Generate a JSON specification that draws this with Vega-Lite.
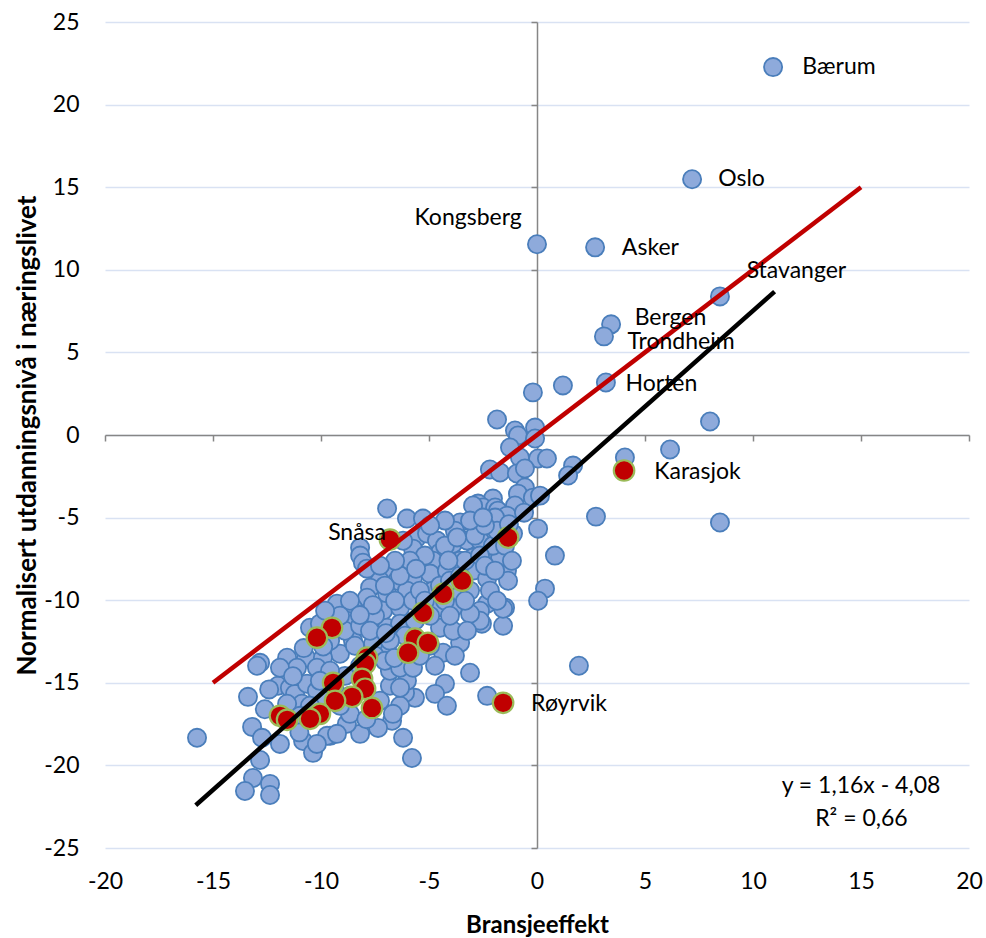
{
  "$schema": "https://vega.github.io/schema/vega-lite/v6.json",
  "width": 864,
  "height": 826,
  "autosize": {"type": "none"},
  "padding": {"left": 105, "top": 22, "right": 17, "bottom": 90},
  "background": "white",
  "config": {"view": {"stroke": null}, "font": "Lato"},
  "datasets": {
    "blue": [
      {"x":10.93,"y":22.27},{"x":7.18,"y":15.48},{"x":0.0,"y":11.55},{"x":2.69,"y":11.36},{"x":8.47,"y":8.39},{"x":3.43,"y":6.70},{"x":3.10,"y":5.97},{"x":3.19,"y":3.18},{"x":-0.19,"y":2.58},{"x":1.20,"y":3.0},{"x":-1.85,"y":0.94},{"x":-0.09,"y":0.45},{"x":-1.02,"y":0.27},{"x":-0.88,"y":-0.03},{"x":-0.09,"y":-0.21},{"x":8.01,"y":0.82},{"x":6.16,"y":-0.88},{"x":4.07,"y":-1.36},{"x":1.67,"y":-1.85},{"x":1.44,"y":-2.45},{"x":-1.25,"y":-0.76},{"x":-0.79,"y":-1.36},{"x":0.05,"y":-1.42},{"x":0.46,"y":-1.42},{"x":-2.18,"y":-2.09},{"x":-1.71,"y":-2.27},{"x":-0.93,"y":-2.33},{"x":-0.56,"y":-2.03},{"x":-0.56,"y":-3.18},{"x":-0.88,"y":-3.55},{"x":-0.19,"y":-3.79},{"x":0.14,"y":-3.67},{"x":-2.04,"y":-3.85},{"x":-2.73,"y":-4.15},{"x":-2.50,"y":-4.39},{"x":-1.94,"y":-4.39},{"x":-1.02,"y":-4.27},{"x":2.73,"y":-4.94},{"x":8.47,"y":-5.30},{"x":0.05,"y":-5.67},{"x":-1.81,"y":-4.58},{"x":-1.39,"y":-4.88},{"x":-1.94,"y":-5.0},{"x":-3.56,"y":-5.30},{"x":-1.11,"y":-5.97},{"x":0.83,"y":-7.30},{"x":-1.39,"y":-8.21},{"x":-1.34,"y":-8.82},{"x":0.37,"y":-9.30},{"x":0.05,"y":-10.03},{"x":-1.48,"y":-10.45},{"x":-1.57,"y":-11.55},{"x":-2.31,"y":-10.21},{"x":-2.55,"y":-11.42},{"x":1.94,"y":-13.97},{"x":-3.10,"y":-14.39},{"x":-4.26,"y":-15.06},{"x":-4.72,"y":-15.67},{"x":-4.17,"y":-16.39},{"x":-2.31,"y":-15.79},{"x":-5.65,"y":-15.91},{"x":-6.11,"y":-15.61},{"x":-6.34,"y":-16.39},{"x":-6.71,"y":-17.30},{"x":-7.36,"y":-17.73},{"x":-8.19,"y":-18.09},{"x":-6.20,"y":-18.33},{"x":-5.79,"y":-19.55},{"x":-6.81,"y":-15.18},{"x":-8.80,"y":-17.48},{"x":-6.02,"y":-14.88},{"x":-4.35,"y":-13.18},{"x":-3.56,"y":-12.58},
      {"x":-12.82,"y":-13.79},{"x":-12.96,"y":-13.97},{"x":-13.38,"y":-15.85},{"x":-15.74,"y":-18.33},{"x":-13.19,"y":-17.67},{"x":-12.73,"y":-18.33},{"x":-12.82,"y":-19.67},{"x":-13.15,"y":-20.76},{"x":-13.52,"y":-21.55},{"x":-12.36,"y":-21.12},{"x":-12.36,"y":-21.79},{"x":-11.90,"y":-18.70},{"x":-11.57,"y":-13.48},{"x":-10.69,"y":-13.48},{"x":-11.99,"y":-15.18},{"x":-11.44,"y":-15.30},{"x":-10.83,"y":-18.52},{"x":-10.37,"y":-19.24},{"x":-9.58,"y":-18.21},{"x":-11.20,"y":-15.67},{"x":-10.88,"y":-16.27},{"x":-11.57,"y":-16.27},
      {"x":-6.94,"y":-4.45},{"x":-6.02,"y":-5.06},{"x":-5.28,"y":-5.06},{"x":-2.96,"y":-4.27},{"x":-8.19,"y":-6.82},{"x":-8.19,"y":-7.30},{"x":-8.06,"y":-7.73},{"x":-7.87,"y":-8.09},{"x":-5.56,"y":-6.21},{"x":-5.09,"y":-5.97},{"x":-4.63,"y":-6.39},{"x":-5.74,"y":-6.88},{"x":-4.49,"y":-7.12},{"x":-3.89,"y":-6.58},{"x":-3.24,"y":-6.39},{"x":-2.64,"y":-6.39},{"x":-2.18,"y":-7.18},{"x":-1.71,"y":-7.42},{"x":-2.04,"y":-6.70},{"x":-2.96,"y":-7.42},{"x":-3.56,"y":-7.61},{"x":-4.81,"y":-7.61},{"x":-5.42,"y":-7.79},{"x":-6.02,"y":-7.79},{"x":-6.67,"y":-8.21},{"x":-7.27,"y":-8.82},{"x":-7.73,"y":-9.24},{"x":-6.48,"y":-8.82},{"x":-5.74,"y":-8.64},{"x":-4.95,"y":-8.39},{"x":-4.17,"y":-8.21},{"x":-2.96,"y":-8.21},{"x":-2.31,"y":-8.70},{"x":-1.57,"y":-10.52},{"x":-2.64,"y":-10.64},{"x":-2.64,"y":-11.24},{"x":-3.10,"y":-10.82},{"x":-3.89,"y":-10.45},{"x":-4.63,"y":-10.45},{"x":-6.02,"y":-9.42},{"x":-6.94,"y":-9.61},{"x":-7.87,"y":-9.85},{"x":-8.52,"y":-10.45},{"x":-9.26,"y":-10.21},{"x":-7.13,"y":-10.64},{"x":-6.34,"y":-10.45},{"x":-5.74,"y":-10.03},{"x":-4.81,"y":-9.42},{"x":-3.70,"y":-9.42},{"x":-10.51,"y":-11.67},{"x":-10.05,"y":-11.42},{"x":-8.80,"y":-11.24},{"x":-7.87,"y":-11.24},{"x":-6.94,"y":-11.67},{"x":-6.34,"y":-11.42},{"x":-4.49,"y":-11.67},{"x":-3.89,"y":-11.85},{"x":-3.24,"y":-11.85},{"x":-6.34,"y":-15.30},{"x":-6.67,"y":-16.88},{"x":-6.81,"y":-14.27},{"x":-6.34,"y":-14.09},{"x":-5.74,"y":-14.09},{"x":-6.94,"y":-13.06},{"x":-7.59,"y":-12.64},{"x":-8.52,"y":-12.45},{"x":-9.12,"y":-13.24},{"x":-9.91,"y":-13.48},{"x":-11.11,"y":-14.09},{"x":-10.19,"y":-14.09},{"x":-10.65,"y":-15.06},{"x":-10.19,"y":-15.48},{"x":-8.66,"y":-16.88},{"x":-9.72,"y":-18.21},{"x":-10.19,"y":-18.70},{"x":-9.26,"y":-18.09},{"x":-11.90,"y":-14.09},
      {"x":-9.58,"y":-12.45},{"x":-8.89,"y":-11.85},{"x":-8.19,"y":-11.55},{"x":-7.50,"y":-10.94},{"x":-6.57,"y":-10.03},{"x":-5.42,"y":-9.42},{"x":-5.19,"y":-10.03},{"x":-4.49,"y":-9.12},{"x":-4.03,"y":-8.82},{"x":-3.56,"y":-8.52},{"x":-3.33,"y":-7.61},{"x":-2.64,"y":-7.30},{"x":-2.41,"y":-7.91},{"x":-1.94,"y":-8.21},{"x":-3.10,"y":-9.42},{"x":-4.26,"y":-10.03},{"x":-4.95,"y":-10.94},{"x":-5.65,"y":-11.24},{"x":-6.11,"y":-12.15},{"x":-6.81,"y":-12.45},{"x":-7.50,"y":-13.36},{"x":-8.19,"y":-13.97},{"x":-8.89,"y":-14.58},{"x":-9.58,"y":-14.27},{"x":-10.05,"y":-14.88},{"x":-9.35,"y":-15.48},{"x":-8.66,"y":-15.79},{"x":-9.81,"y":-16.09},{"x":-10.51,"y":-16.39},{"x":-10.97,"y":-17.0},{"x":-9.12,"y":-16.39},{"x":-7.27,"y":-16.09},{"x":-7.04,"y":-13.67},{"x":-7.73,"y":-11.85},{"x":-8.43,"y":-12.76},{"x":-4.95,"y":-12.76},{"x":-5.42,"y":-13.36},{"x":-4.72,"y":-13.97},{"x":-3.80,"y":-13.36},{"x":-4.03,"y":-10.94},{"x":-3.33,"y":-10.03},{"x":-2.18,"y":-9.42},{"x":-1.85,"y":-10.03},{"x":-2.87,"y":-6.09},{"x":-3.80,"y":-5.79},{"x":-4.26,"y":-6.70},{"x":-5.19,"y":-7.30},{"x":-5.88,"y":-7.61},{"x":-6.34,"y":-8.52},{"x":-7.04,"y":-9.12},{"x":-8.66,"y":-10.03},{"x":-9.12,"y":-10.94},{"x":-9.81,"y":-10.64},{"x":-1.48,"y":-6.70},{"x":-1.16,"y":-7.61},{"x":-1.85,"y":-5.79},{"x":-2.41,"y":-5.48},{"x":-3.10,"y":-5.18},{"x":-4.26,"y":-5.18},{"x":-4.95,"y":-5.48},{"x":-6.57,"y":-7.61},{"x":-7.27,"y":-7.91},
      {"x":-6.2,"y":-6.4},{"x":-5.6,"y":-8.1},{"x":-4.1,"y":-7.6},{"x":-3.7,"y":-6.2},{"x":-2.5,"y":-5.0},{"x":-1.3,"y":-5.4},{"x":-0.6,"y":-4.7},{"x":-7.6,"y":-10.3},{"x":-8.2,"y":-10.9},{"x":-7.0,"y":-12.0},{"x":-6.6,"y":-13.5},{"x":-9.9,"y":-12.8},{"x":-10.8,"y":-12.9},{"x":-11.3,"y":-14.6},{"x":-12.4,"y":-15.4},{"x":-12.6,"y":-16.6},{"x":-11.0,"y":-18.0},{"x":-7.9,"y":-17.2}
    ],
    "red": [
      {"x":-6.81,"y":-6.33},{"x":-1.34,"y":-6.21},{"x":-3.47,"y":-8.82},{"x":-4.35,"y":-9.61},{"x":-5.28,"y":-10.76},{"x":-9.49,"y":-11.67},{"x":-10.19,"y":-12.27},{"x":-5.65,"y":-12.33},{"x":-5.05,"y":-12.58},{"x":-5.97,"y":-13.18},{"x":-7.87,"y":-13.48},{"x":-7.96,"y":-13.85},{"x":-9.44,"y":-15.0},{"x":-8.10,"y":-14.76},{"x":-7.96,"y":-15.36},{"x":-8.56,"y":-15.85},{"x":-9.35,"y":-16.09},{"x":-7.64,"y":-16.52},{"x":-10.05,"y":-16.88},{"x":-10.51,"y":-17.18},{"x":-11.90,"y":-17.0},{"x":-11.57,"y":-17.24},{"x":-1.57,"y":-16.21},{"x":4.03,"y":-2.15}
    ],
    "lines": [
      {"serie":"45 grader","x":-15,"y":-15},{"serie":"45 grader","x":15,"y":15},
      {"serie":"Trend","x":-15.8,"y":-22.41},{"serie":"Trend","x":11,"y":8.68}
    ],
    "labels": [
      {"navn":"Bærum","x":13.98,"y":22.27},{"navn":"Oslo","x":9.47,"y":15.48},{"navn":"Kongsberg","x":-3.19,"y":13.12},{"navn":"Asker","x":5.25,"y":11.30},{"navn":"Stavanger","x":12.01,"y":9.91},{"navn":"Bergen","x":6.18,"y":7.06},{"navn":"Trondheim","x":6.67,"y":5.61},{"navn":"Horten","x":5.76,"y":3.06},{"navn":"Karasjok","x":7.43,"y":-2.21},{"navn":"Snåsa","x":-8.33,"y":-5.91},{"navn":"Røyrvik","x":1.48,"y":-16.27}
    ],
    "eq": [
      {"t":"y = 1,16x - 4,08","x":15.0,"y":-21.24},{"t":"R² = 0,66","x":15.02,"y":-23.24}
    ]
  },
  "resolve": {"axis": {"x": "independent", "y": "independent"}},
  "layer": [
    {
      "data": {"name": "blue"},
      "mark": {"type": "circle", "size": 330, "fill": "#8EAADB", "stroke": "#4A7EBB", "strokeWidth": 1.8, "opacity": 1},
      "encoding": {
        "x": {"field": "x", "type": "quantitative", "scale": {"domain": [-20, 20], "nice": false, "zero": false},
          "axis": {"orient": "bottom", "domain": false, "ticks": false, "grid": false, "values": [-20,-15,-10,-5,0,5,10,15,20],
            "labelExpr": "replace(datum.label, '−', '-')",
            "labelFontSize": 23, "labelColor": "#000000", "labelPadding": 22, "labelFont": "Lato", "labelFlush": false,
            "title": "Bransjeeffekt", "titleFont": "Lato", "titleFontSize": 24, "titleFontWeight": "bold", "titleColor": "#000000", "titlePadding": 20}},
        "y": {"field": "y", "type": "quantitative", "scale": {"domain": [-25, 25], "nice": false, "zero": false},
          "axis": {"orient": "left", "domain": false, "ticks": false, "grid": true, "gridColor": "#D9E2F3", "gridWidth": 1.5,
            "values": [-25,-20,-15,-10,-5,0,5,10,15,20,25],
            "labelExpr": "replace(datum.label, '−', '-')",
            "labelFontSize": 23, "labelColor": "#000000", "labelPadding": 26, "labelFont": "Lato", "labelFlush": false,
            "title": "Normalisert utdanningsnivå i næringslivet", "titleFont": "Lato", "titleFontSize": 26, "titleFontWeight": "bold", "titleColor": "#000000", "titlePadding": 3}}
      }
    },
    {
      "data": {"name": "red"},
      "mark": {"type": "circle", "size": 420, "fill": "#C00000", "stroke": "#9BBB59", "strokeWidth": 2.2, "opacity": 1},
      "encoding": {
        "x": {"field": "x", "type": "quantitative",
          "axis": {"orient": "bottom", "offset": -413, "labels": false, "grid": false, "domain": true, "domainColor": "#868686", "domainWidth": 1.5,
            "ticks": true, "tickColor": "#868686", "tickWidth": 1.5, "tickSize": 6, "values": [-20,-15,-10,-5,0,5,10,15,20], "title": null}},
        "y": {"field": "y", "type": "quantitative",
          "axis": {"orient": "left", "offset": -432, "labels": false, "grid": false, "domain": true, "domainColor": "#868686", "domainWidth": 1.5,
            "ticks": true, "tickColor": "#868686", "tickWidth": 1.5, "tickSize": 6, "values": [-25,-20,-15,-10,-5,0,5,10,15,20,25], "title": null}}
      }
    },
    {
      "data": {"name": "lines"},
      "mark": {"type": "line", "strokeWidth": 4.5},
      "encoding": {
        "x": {"field": "x", "type": "quantitative", "axis": null},
        "y": {"field": "y", "type": "quantitative", "axis": null},
        "color": {"field": "serie", "type": "nominal", "scale": {"domain": ["45 grader", "Trend"], "range": ["#C00000", "#000000"]}, "legend": null}
      }
    },
    {
      "data": {"name": "labels"},
      "mark": {"type": "text", "font": "Lato", "fontSize": 23, "color": "#000000", "align": "center", "baseline": "middle"},
      "encoding": {
        "x": {"field": "x", "type": "quantitative", "axis": null},
        "y": {"field": "y", "type": "quantitative", "axis": null},
        "text": {"field": "navn", "type": "nominal"}
      }
    },
    {
      "data": {"name": "eq"},
      "mark": {"type": "text", "font": "Lato", "fontSize": 23, "color": "#000000", "align": "center", "baseline": "middle"},
      "encoding": {
        "x": {"field": "x", "type": "quantitative", "axis": null},
        "y": {"field": "y", "type": "quantitative", "axis": null},
        "text": {"field": "t", "type": "nominal"}
      }
    }
  ]
}
